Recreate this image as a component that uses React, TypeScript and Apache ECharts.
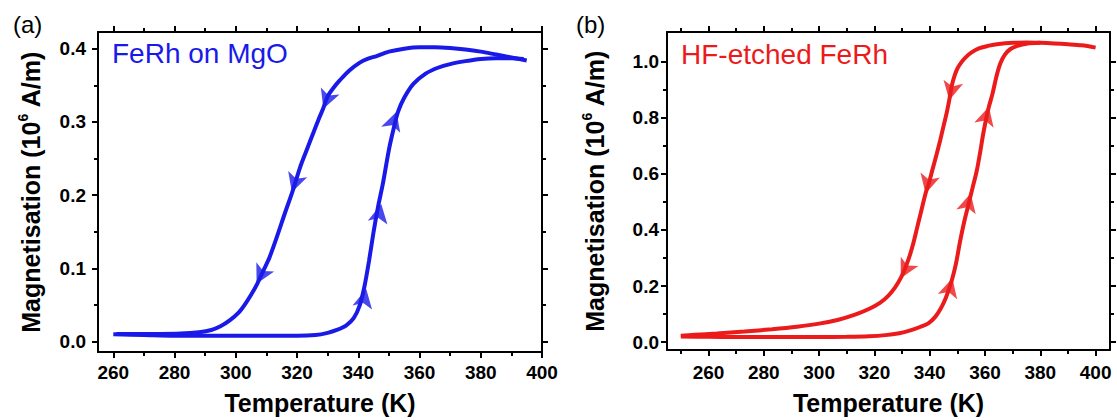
import React, { useEffect, useRef } from 'react';
import * as echarts from 'echarts';

const FONT = '"Liberation Sans", Arial, sans-serif';
const BLUE = '#1a1ae8';
const RED = '#ec1b1b';

// ---------- Panel (a): FeRh on MgO ----------
const aHeatT = [260, 270, 280, 290, 300, 310, 320, 326, 330, 333, 336, 338.5, 340.5, 342, 343.5, 345, 346.5, 348, 350, 351.5, 353, 355, 358, 362, 366, 370, 375, 380, 385, 390, 394];
const aHeatM = [0.010, 0.009, 0.008, 0.008, 0.008, 0.008, 0.008, 0.009, 0.012, 0.016, 0.022, 0.032, 0.050, 0.075, 0.110, 0.150, 0.185, 0.215, 0.262, 0.290, 0.314, 0.333, 0.352, 0.366, 0.374, 0.379, 0.383, 0.386, 0.387, 0.387, 0.386];
const aCoolT = [395, 390, 385, 380, 375, 370, 365, 360, 355, 350, 346, 343, 340.5, 337, 334, 332, 330, 328.5, 327, 325.5, 323, 321, 318.5, 316, 313.5, 311, 309, 307, 305, 303, 301, 298, 295, 292, 288, 282, 275, 268, 261];
const aCoolM = [0.384, 0.388, 0.392, 0.396, 0.399, 0.401, 0.402, 0.402, 0.400, 0.396, 0.390, 0.386, 0.381, 0.370, 0.357, 0.347, 0.335, 0.318, 0.303, 0.287, 0.260, 0.238, 0.205, 0.175, 0.144, 0.115, 0.097, 0.079, 0.064, 0.051, 0.040, 0.029, 0.021, 0.016, 0.013, 0.011, 0.0105, 0.0105, 0.0105];
const aArrowT = [328.6, 318.3, 306.8, 342.6, 347.5, 352.5];
const aArrowM = [0.318, 0.204, 0.079, 0.072, 0.188, 0.314];
const aArrowRot = [159, 162, 153, -12, -11, -18];
const aXMajor = [260, 280, 300, 320, 340, 360, 380, 400];
const aXMinor = [270, 290, 310, 330, 350, 370, 390];
const aYMajor = [0, 0.1, 0.2, 0.3, 0.4];
const aYMinor = [0.05, 0.15, 0.25, 0.35];

// ---------- Panel (b): HF-etched FeRh ----------
const bHeatT = [250, 260, 270, 280, 290, 300, 310, 318, 324, 329, 333, 336.5, 339.5, 342, 344, 345.5, 347, 348.2, 349.5, 351, 352.5, 354, 355.5, 357, 358.3, 359.3, 360.5, 361.4, 362.7, 364.2, 365.6, 367.2, 369.2, 371.7, 375, 380];
const bHeatM = [0.020, 0.019, 0.018, 0.018, 0.018, 0.018, 0.019, 0.021, 0.025, 0.032, 0.042, 0.054, 0.067, 0.090, 0.120, 0.150, 0.190, 0.228, 0.280, 0.360, 0.430, 0.490, 0.550, 0.610, 0.680, 0.740, 0.800, 0.839, 0.885, 0.950, 0.995, 1.025, 1.045, 1.056, 1.064, 1.067];
const bCoolT = [400, 395, 390, 385, 380, 375, 370, 365, 361, 358, 355, 353, 351.5, 350, 349, 348, 347.2, 346.2, 345, 343.8, 342.5, 341, 339.8, 338.5, 337, 335.5, 334, 332.5, 331, 329.5, 327.5, 325, 322, 318, 313, 307, 300, 292, 283, 273, 263, 255, 250];
const bCoolM = [1.050, 1.058, 1.062, 1.065, 1.067, 1.068, 1.067, 1.063, 1.056, 1.048, 1.032, 1.015, 0.998, 0.975, 0.950, 0.915, 0.870, 0.820, 0.770, 0.720, 0.670, 0.615, 0.570, 0.530, 0.470, 0.410, 0.350, 0.300, 0.260, 0.228, 0.195, 0.165, 0.140, 0.118, 0.098, 0.080, 0.066, 0.055, 0.046, 0.038, 0.031, 0.026, 0.023];
const bArrowT = [347.1, 338.5, 329.5, 348.2, 354.8, 361.4];
const bArrowM = [0.862, 0.530, 0.228, 0.228, 0.530, 0.839];
const bArrowRot = [168, 166, 152, -15, -14, -15];
const bXMajor = [260, 280, 300, 320, 340, 360, 380, 400];
const bXMinor = [250, 270, 290, 310, 330, 350, 370, 390];
const bYMajor = [0, 0.2, 0.4, 0.6, 0.8, 1.0];
const bYMinor = [0.1, 0.3, 0.5, 0.7, 0.9];

const zip = (t: number[], m: number[]) => t.map((v, i) => [v, m[i]]);

const lineSt = { color: '#000', width: 2 };

function xAxes(gi: number, min: number, max: number, major: number[], minor: number[], nameGap: number, labelMargin: number) {
  const base = { type: 'value', gridIndex: gi, min, max, splitLine: { show: false } };
  const line = { show: true, onZero: false, lineStyle: lineSt };
  const noLine = { show: false, onZero: false };
  const tick = (vals: number[], len: number) => ({ show: true, inside: false, length: len, customValues: vals, lineStyle: lineSt });
  return [
    {
      ...base, position: 'bottom', axisLine: line, axisTick: tick(major, 6),
      axisLabel: { show: true, customValues: major, margin: labelMargin, fontSize: 19, fontWeight: 'bold', color: '#000', fontFamily: FONT, formatter: (v: number) => String(Math.round(v)) },
      name: 'Temperature (K)', nameLocation: 'middle', nameGap,
      nameTextStyle: { fontSize: 25, fontWeight: 'bold', color: '#000', fontFamily: FONT },
    },
    { ...base, position: 'bottom', axisLine: noLine, axisTick: tick(minor, 4), axisLabel: { show: false } },
    { ...base, position: 'top', axisLine: line, axisTick: tick(major, 6), axisLabel: { show: false } },
    { ...base, position: 'top', axisLine: noLine, axisTick: tick(minor, 4), axisLabel: { show: false } },
  ];
}

function yAxes(gi: number, min: number, max: number, major: number[], minor: number[], nameGap: number, labelMargin: number) {
  const base = { type: 'value', gridIndex: gi, min, max, splitLine: { show: false } };
  const line = { show: true, onZero: false, lineStyle: lineSt };
  const noLine = { show: false, onZero: false };
  const tick = (vals: number[], len: number) => ({ show: true, inside: false, length: len, customValues: vals, lineStyle: lineSt });
  return [
    {
      ...base, position: 'left', axisLine: line, axisTick: tick(major, 6),
      axisLabel: { show: true, customValues: major, margin: labelMargin, fontSize: 19, fontWeight: 'bold', color: '#000', fontFamily: FONT, formatter: (v: number) => v.toFixed(1) },
      name: 'Magnetisation (10{sup|6} A/m)', nameLocation: 'middle', nameGap, nameRotate: 90,
      nameTextStyle: {
        fontSize: 25, fontWeight: 'bold', color: '#000', fontFamily: FONT,
        rich: { sup: { fontSize: 14, fontWeight: 'bold', color: '#000', fontFamily: FONT, verticalAlign: 'top', lineHeight: 30 } },
      },
    },
    { ...base, position: 'left', axisLine: noLine, axisTick: tick(minor, 4), axisLabel: { show: false } },
    { ...base, position: 'right', axisLine: line, axisTick: tick(major, 6), axisLabel: { show: false } },
    { ...base, position: 'right', axisLine: noLine, axisTick: tick(minor, 4), axisLabel: { show: false } },
  ];
}

function arrowData(t: number[], m: number[], rot: number[]) {
  return t.map((v, i) => ({ value: [v, m[i]], symbolRotate: rot[i] }));
}

export default function App() {
  const ref = useRef<HTMLDivElement>(null);
  useEffect(() => {
    if (!ref.current) return;
    const chart = echarts.init(ref.current, null, { renderer: 'svg' });
    const option: any = {
      animation: false,
      backgroundColor: '#fff',
      grid: [
        { left: 98, top: 32, width: 444, height: 325.5 },
        { left: 667, top: 32, width: 443, height: 322 },
      ],
      xAxis: [
        ...xAxes(0, 255, 400, aXMajor, aXMinor, 38, 11),
        ...xAxes(1, 245, 405.2, bXMajor, bXMinor, 40, 13),
      ],
      yAxis: [
        ...yAxes(0, -0.0141, 0.4228, aYMajor, aYMinor, 52, 12),
        ...yAxes(1, -0.028, 1.1056, bYMajor, bYMinor, 57, 8),
      ],
      series: [
        { type: 'line', xAxisIndex: 0, yAxisIndex: 0, data: zip(aHeatT, aHeatM), showSymbol: false, smooth: 0.3, lineStyle: { color: BLUE, width: 4 }, itemStyle: { color: BLUE } },
        { type: 'line', xAxisIndex: 0, yAxisIndex: 0, data: zip(aCoolT, aCoolM), showSymbol: false, smooth: 0.3, lineStyle: { color: BLUE, width: 4 }, itemStyle: { color: BLUE } },
        { type: 'scatter', xAxisIndex: 0, yAxisIndex: 0, data: arrowData(aArrowT, aArrowM, aArrowRot), symbol: 'arrow', symbolSize: [15, 19], itemStyle: { color: BLUE }, z: 5 },
        { type: 'line', xAxisIndex: 4, yAxisIndex: 4, data: zip(bHeatT, bHeatM), showSymbol: false, smooth: 0.3, lineStyle: { color: RED, width: 4 }, itemStyle: { color: RED } },
        { type: 'line', xAxisIndex: 4, yAxisIndex: 4, data: zip(bCoolT, bCoolM), showSymbol: false, smooth: 0.3, lineStyle: { color: RED, width: 4 }, itemStyle: { color: RED } },
        { type: 'scatter', xAxisIndex: 4, yAxisIndex: 4, data: arrowData(bArrowT, bArrowM, bArrowRot), symbol: 'arrow', symbolSize: [15, 19], itemStyle: { color: RED }, z: 5 },
      ],
      graphic: [
        { type: 'text', left: 13, top: 12, style: { text: '(a)', fontSize: 24, fontFamily: FONT, fill: '#000' } },
        { type: 'text', left: 576, top: 12, style: { text: '(b)', fontSize: 24, fontFamily: FONT, fill: '#000' } },
        { type: 'text', left: 112, top: 39, style: { text: 'FeRh on MgO', fontSize: 28, fontFamily: FONT, fill: BLUE } },
        { type: 'text', left: 681, top: 40, style: { text: 'HF-etched FeRh', fontSize: 28, fontFamily: FONT, fill: RED } },
      ],
    };
    chart.setOption(option);
    return () => chart.dispose();
  }, []);
  return <div ref={ref} style={{ position: 'absolute', left: 0, top: 0, width: 1117, height: 420, background: '#fff' }} />;
}
